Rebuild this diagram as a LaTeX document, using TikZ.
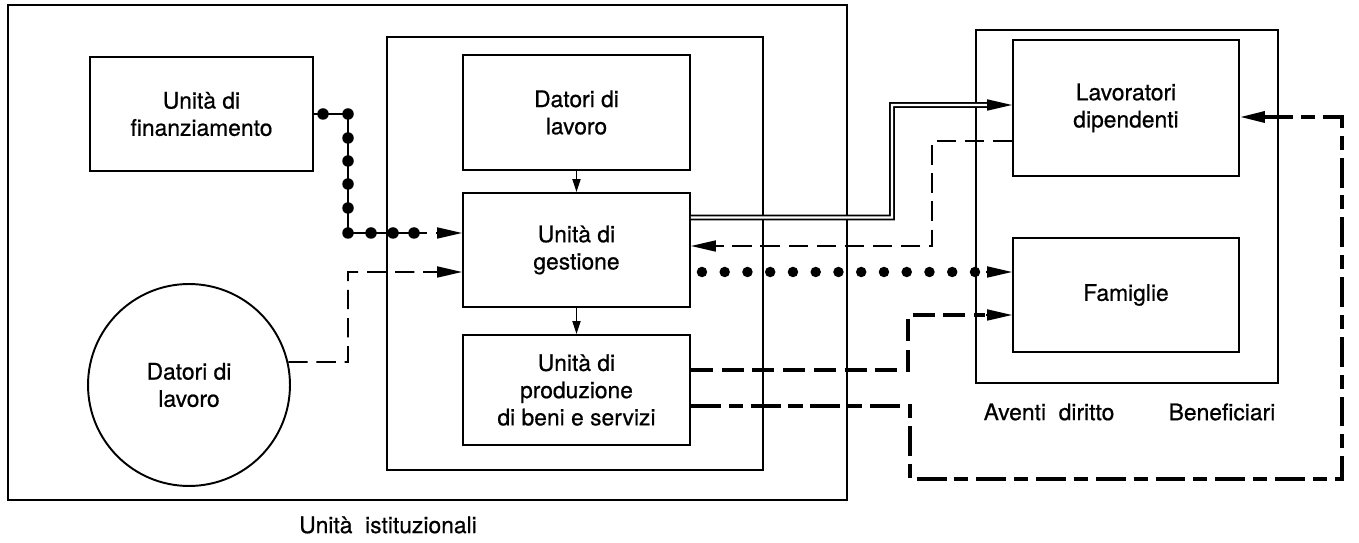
\documentclass[tikz,border=0pt]{standalone}
\usepackage{fontspec}
\setmainfont{TeX Gyre Heros}[FakeBold=0.6]
\usetikzlibrary{arrows.meta,calc}

\tikzset{
  box/.style={draw,line width=1.1pt,align=center,inner sep=0pt},
  frame/.style={draw,line width=1.1pt},
  tip/.style={-{Triangle[length=5mm,width=2.2mm]}},
  smalltip/.style={-{Triangle[length=2.6mm,width=1.6mm]}},
  thindash/.style={line width=1pt,dash pattern=on 11pt off 5pt},
  heavydash/.style={line width=2.8pt,dash pattern=on 12.5pt off 5pt,line join=miter},
  longshort/.style={line width=2pt,dash pattern=on 17pt off 4.5pt on 8pt off 4.5pt},
  bigdots/.style={line width=0.21cm,line cap=round,dash pattern=on 0pt off 12.95pt},
}

\begin{document}
\begin{tikzpicture}[x=0.02cm,y=-0.02cm,font=\fontsize{13}{15.5}\selectfont]
   \useasboundingbox (0,0) rectangle (1359,543);
   % frames
   \draw[frame] (8,5) rectangle (847,500);
   \draw[frame] (387,37) rectangle (763,470);
   \draw[frame] (976,30) rectangle (1278,383);

   \node[box,minimum width=4.46cm,minimum height=2.28cm] (fin) at (201.5,114) {Unità di\\finanziamento};
   \node[box,circle,minimum size=4.04cm] (circ) at (189,385) {Datori di\\lavoro};
   \node[box,minimum width=4.54cm,minimum height=2.30cm] (dl) at (576.5,112.5) {Datori di\\lavoro};
   \node[box,minimum width=4.54cm,minimum height=2.28cm] (gest) at (576.5,250) {Unità di\\gestione};
   \node[box,minimum width=4.54cm,minimum height=2.20cm] (prod) at (576.5,390) {Unità di\\produzione\\di beni e servizi};
   \node[box,minimum width=4.52cm,minimum height=2.72cm] (lav) at (1126,108) {Lavoratori\\dipendenti};
   \node[box,minimum width=4.52cm,minimum height=2.28cm] (fam) at (1126,295) {Famiglie};

   \node (inst) at (388,525) {Unità\ \ istituzionali};
   \node (avd) at (1049,412) {Aventi\ \ diritto};
   \node (ben) at (1222,412) {Beneficiari};

   \draw[smalltip,line width=1pt] (dl) -- (gest);
   \draw[smalltip,line width=1pt] (gest) -- (prod);

   % chain of beads
   \draw[line width=1pt] (fin.east) -- (348,114) -- (348,233) -- ($(gest.west)+(-35,-17)$);
   \foreach \x/\y in {323/114,348/114,348/138,348/161,348/184,348/208,348/233,371/233,393/233,414/233}
      \fill (\x,\y) circle (0.115cm);
   \draw[tip,line width=1pt] ($(gest.west)+(-26,-17)$) -- ($(gest.west)+(0,-17)$);

   \draw[thindash,tip] (circ.13) -- (348,362) -- (348,272) -- ($(gest.west)+(0,22)$);

   \draw[line width=1pt,double,double distance=1.3pt,tip] ($(gest.east)+(0,-32.5)$) -- (892,217.5) -- (892,105) -- ($(lav.west)+(0,-3)$);
   \draw[thindash,tip] ($(lav.west)+(0,33)$) -- (932,141) -- (932,246) -- ($(gest.east)+(0,-4)$);

   \draw[bigdots] ($(gest.east)+(11,22)$) -- (976,272);
   \draw[tip,line width=1pt] ($(fam.west)+(-26,-23)$) -- ($(fam.west)+(0,-23)$);

   \draw[heavydash] ($(prod.east)+(0,-20)$) -- (908,370) -- (908,315) -- (985,315);
   \draw[tip,line width=1pt] ($(fam.west)+(-26,20)$) -- ($(fam.west)+(0,20)$);

   \draw[longshort,tip] ($(prod.east)+(0,16)$) -- (910,406) -- (910,479) -- (1342,479) -- (1342,117) -- ($(lav.east)+(0,9)$);
\end{tikzpicture}
\end{document}
